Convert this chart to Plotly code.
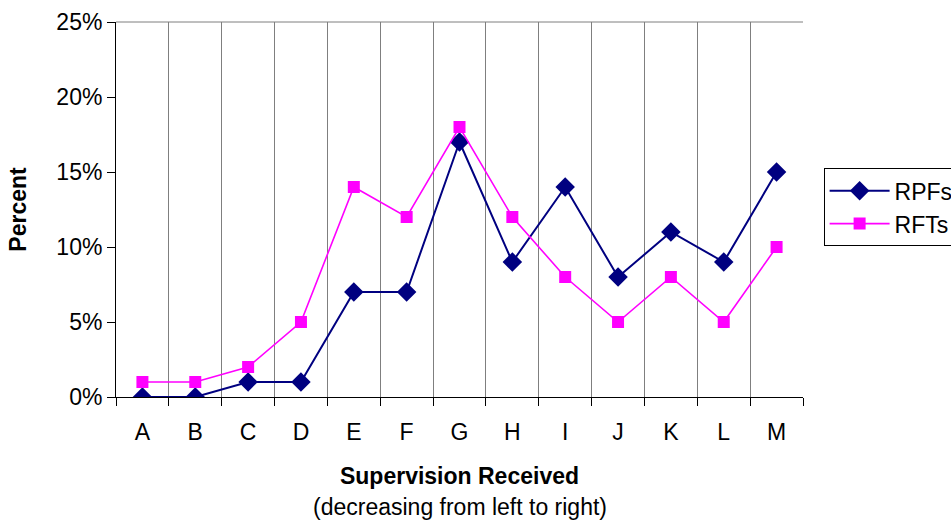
import plotly.graph_objects as go

categories = ["A", "B", "C", "D", "E", "F", "G", "H", "I", "J", "K", "L", "M"]
rpfs = [0, 0, 1, 1, 7, 7, 17, 9, 14, 8, 11, 9, 15]
rfts = [1, 1, 2, 5, 14, 12, 18, 12, 8, 5, 8, 5, 10]

FONT = "Liberation Sans, Arial, sans-serif"
FS = 23

fig = go.Figure()
fig.add_trace(go.Scatter(
    x=categories, y=rpfs, name="RPFs", mode="lines+markers",
    line=dict(color="#000080", width=2),
    marker=dict(symbol="diamond", size=15, color="#000080"),
))
fig.add_trace(go.Scatter(
    x=categories, y=rfts, name="RFTs", mode="lines+markers",
    line=dict(color="#FF00FF", width=1.6),
    marker=dict(symbol="square", size=12, color="#FF00FF"),
))

fig.update_layout(
    width=951, height=520,
    margin=dict(l=116, r=148, t=22, b=123, autoexpand=False),
    paper_bgcolor="white", plot_bgcolor="white",
    font=dict(family=FONT, size=FS, color="black"),
    legend=dict(
        x=1.03, y=0.61, xanchor="left", yanchor="top",
        bordercolor="black", borderwidth=1, bgcolor="white",
        font=dict(size=FS), tracegroupgap=0, itemwidth=60,
    ),
    xaxis=dict(
        type="category", tickson="boundaries", range=[-0.5, 12.5],
        showgrid=True, gridcolor="#7f7f7f", gridwidth=1,
        showline=True, linecolor="black", linewidth=1,
        ticks="outside", ticklen=8, tickcolor="black",
        ticklabelstandoff=14,
        title=dict(text="<b>Supervision Received</b>", standoff=24,
                   font=dict(size=FS)),
        automargin=False,
    ),
    yaxis=dict(
        range=[0, 25], dtick=5, ticksuffix="%",
        showgrid=False, zeroline=False,
        showline=True, linecolor="black", linewidth=1,
        ticks="outside", ticklen=8, tickcolor="black",
        title=dict(text="<b>Percent</b>", standoff=23, font=dict(size=FS)),
        automargin=False,
    ),
    shapes=[dict(type="line", xref="paper", yref="paper", x0=0, x1=1, y0=1, y1=1,
                 line=dict(color="#7f7f7f", width=1))],
    annotations=[dict(
        text="(decreasing from left to right)", xref="paper", yref="paper",
        x=0.5, y=-0.293, xanchor="center", yanchor="middle", showarrow=False,
        font=dict(size=FS),
    )],
)

fig.write_html("out.html")
